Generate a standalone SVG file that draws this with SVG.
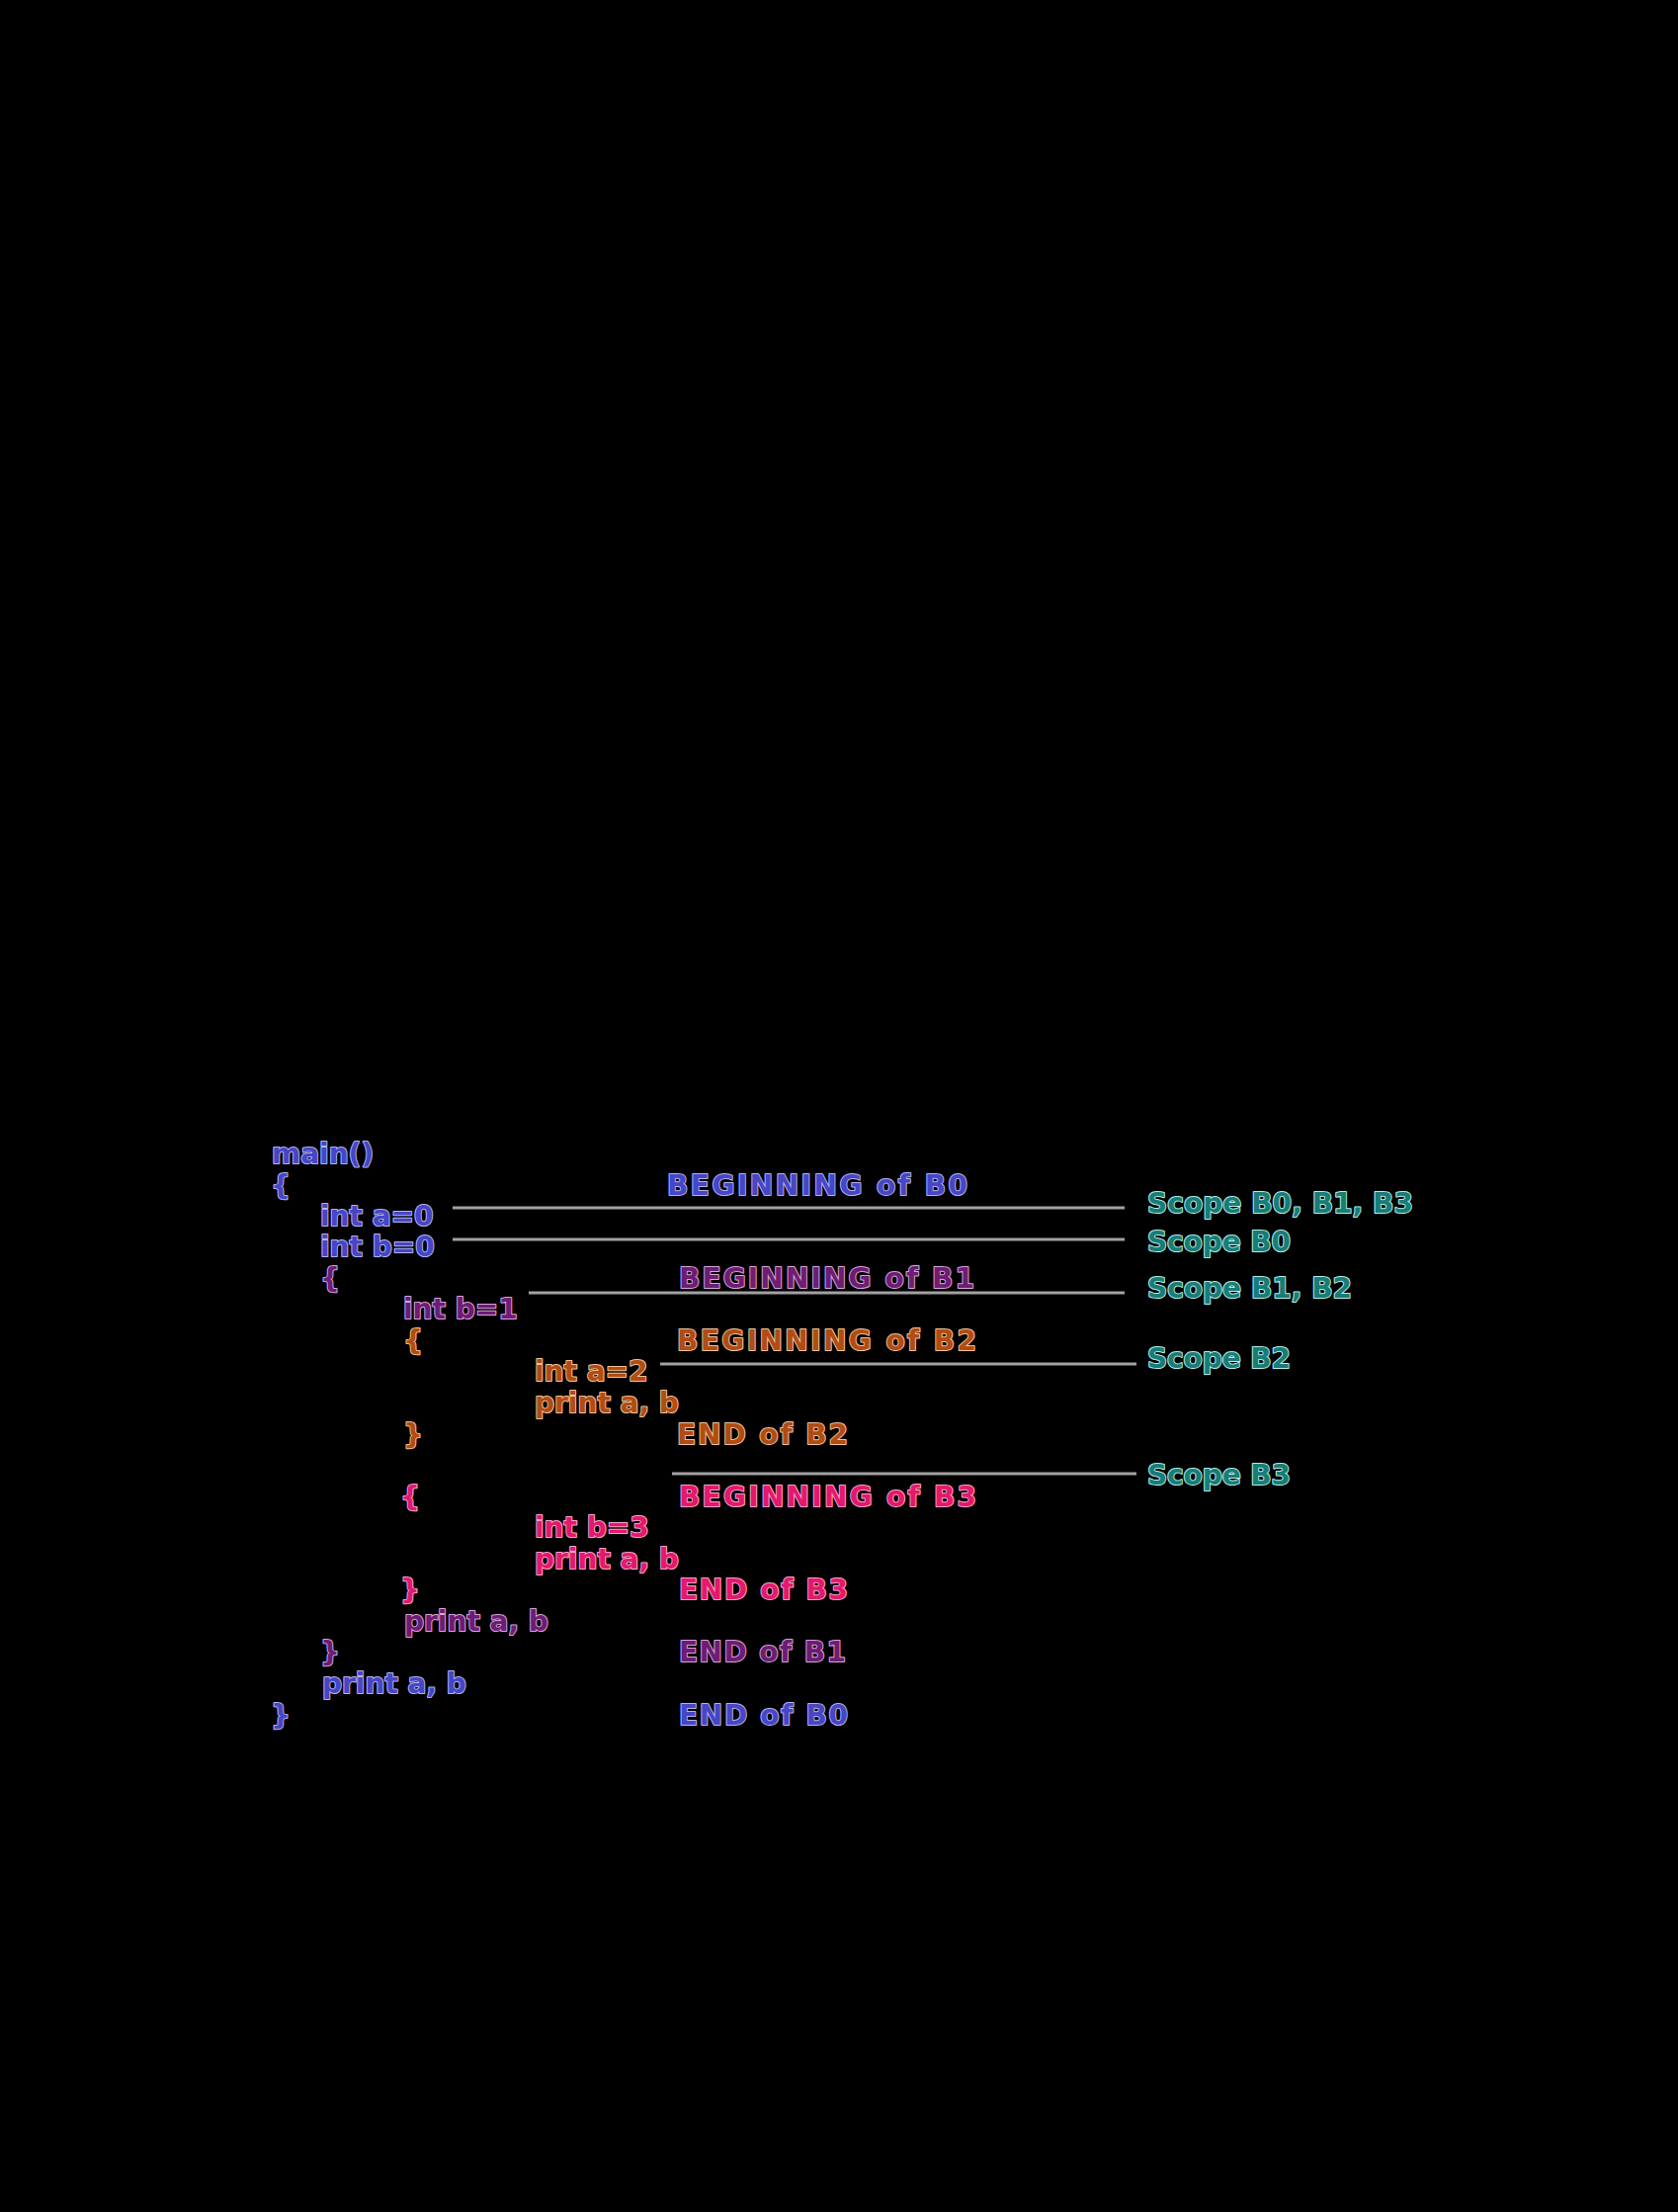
<svg xmlns="http://www.w3.org/2000/svg" width="1698" height="2238" viewBox="0 0 1698 2238">
  <style>
    text { font-family: "DejaVu Sans", Verdana, sans-serif; font-weight: bold; font-size: 28px; paint-order: stroke; stroke-width: 2px; stroke-linejoin: round; }
    .b0 { fill: #4646c6; stroke: #b4b4f2; }
    .b1 { fill: #6e1c74; stroke: #d6a6de; }
    .b2 { fill: #b04c14; stroke: #f2c496; }
    .b3 { fill: #e4186c; stroke: #f8a6cc; }
    .scope { fill: #187c78; stroke: #b4f0e8; }
    .rule { stroke: #a2a2a2; stroke-width: 3; fill: none; }
  </style>
  <rect x="0" y="0" width="1698" height="2238" fill="#000000"/>

  <!-- source listing, one group per block -->
  <g id="block-b0">
    <text class="b0" x="275" y="1177">main()</text>
    <text class="b0" x="274" y="1209">{</text>
    <text class="b0" x="324" y="1240">int a=0</text>
    <text class="b0" x="324" y="1271">int b=0</text>
    <text class="b0" x="326" y="1713">print a, b</text>
    <text class="b0" x="274" y="1745">}</text>
  </g>
  <g id="block-b1">
    <text class="b1" x="324" y="1303">{</text>
    <text class="b1" x="408" y="1334">int b=1</text>
    <text class="b1" x="409" y="1650">print a, b</text>
    <text class="b1" x="324" y="1681">}</text>
  </g>
  <g id="block-b2">
    <text class="b2" x="408" y="1366">{</text>
    <text class="b2" x="541" y="1397">int a=2</text>
    <text class="b2" x="541" y="1429">print a, b</text>
    <text class="b2" x="408" y="1461">}</text>
  </g>
  <g id="block-b3">
    <text class="b3" x="405" y="1524">{</text>
    <text class="b3" x="541" y="1555">int b=3</text>
    <text class="b3" x="541" y="1587">print a, b</text>
    <text class="b3" x="405" y="1618">}</text>
  </g>

  <!-- block boundary labels -->
  <g id="labels">
    <text class="b0" x="675" y="1209" textLength="304" lengthAdjust="spacing">BEGINNING of B0</text>
    <text class="b1" x="687" y="1303" textLength="299" lengthAdjust="spacing">BEGINNING of B1</text>
    <text class="b2" x="685" y="1366" textLength="303" lengthAdjust="spacing">BEGINNING of B2</text>
    <text class="b2" x="685" y="1461" textLength="173" lengthAdjust="spacing">END of B2</text>
    <text class="b3" x="687" y="1524" textLength="301" lengthAdjust="spacing">BEGINNING of B3</text>
    <text class="b3" x="687" y="1618" textLength="171" lengthAdjust="spacing">END of B3</text>
    <text class="b1" x="687" y="1681" textLength="169" lengthAdjust="spacing">END of B1</text>
    <text class="b0" x="687" y="1745" textLength="171" lengthAdjust="spacing">END of B0</text>
  </g>

  <!-- scope annotations -->
  <g id="scopes">
    <text class="scope" x="1161" y="1227" textLength="269" lengthAdjust="spacing">Scope B0, B1, B3</text>
    <text class="scope" x="1161" y="1266" textLength="145" lengthAdjust="spacing">Scope B0</text>
    <text class="scope" x="1161" y="1313" textLength="207" lengthAdjust="spacing">Scope B1, B2</text>
    <text class="scope" x="1161" y="1384" textLength="145" lengthAdjust="spacing">Scope B2</text>
    <text class="scope" x="1161" y="1502" textLength="145" lengthAdjust="spacing">Scope B3</text>
  </g>

  <!-- leader lines from declarations to their scopes -->
  <g id="connectors">
    <line class="rule" x1="458" y1="1222" x2="1138" y2="1222"/>
    <line class="rule" x1="458" y1="1254" x2="1138" y2="1254"/>
    <line class="rule" x1="535" y1="1308" x2="1138" y2="1308"/>
    <line class="rule" x1="668" y1="1380" x2="1150" y2="1380"/>
    <line class="rule" x1="680" y1="1491" x2="1150" y2="1491"/>
  </g>
</svg>
